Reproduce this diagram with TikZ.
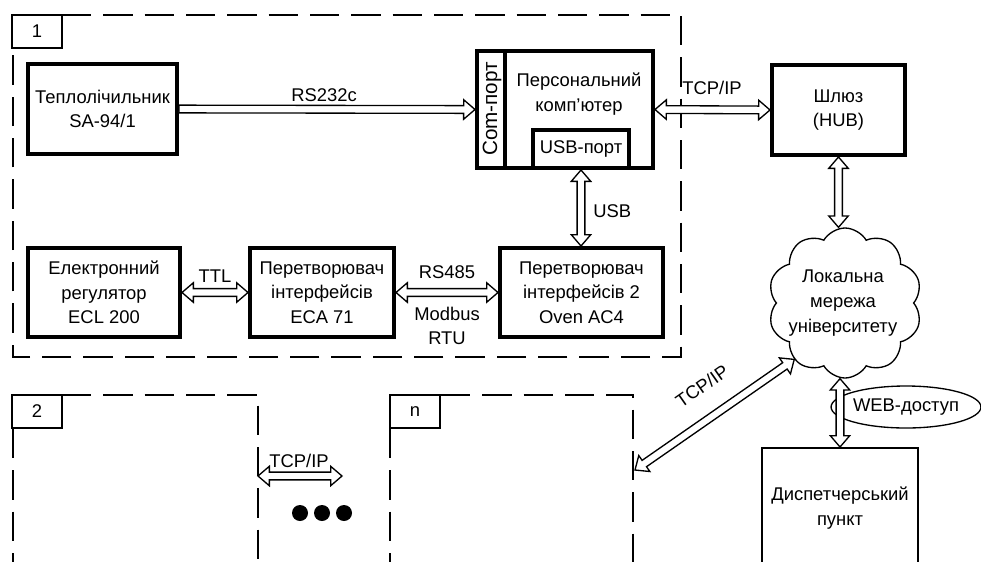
\documentclass[tikz,border=0pt]{standalone}
\usepackage{fontspec}
\setmainfont{Liberation Sans}
\usetikzlibrary{calc,shapes.symbols,shapes.geometric}

\newcommand{\hollowarrow}[3]{%
  \path let \p1=(#2), \p2=(#3), \n1={atan2(\y2-\y1,\x2-\x1)}, \n2={veclen(\x2-\x1,\y2-\y1)} in
    \pgfextra{\xdef\harang{\n1}\xdef\harlen{\n2}};
  \begin{scope}[shift={(#2)}, rotate=\harang]
  \ifnum#1=2
    \path[arrowline] (0pt,0pt) -- (8.5pt,7.3pt) -- (8.5pt,2.9pt) -- ({\harlen-8.5pt},2.9pt) -- ({\harlen-8.5pt},7.3pt)
      -- (\harlen,0pt) -- ({\harlen-8.5pt},-7.3pt) -- ({\harlen-8.5pt},-2.9pt) -- (8.5pt,-2.9pt) -- (8.5pt,-7.3pt) -- cycle;
  \else
    \path[arrowline] (0pt,2.9pt) -- ({\harlen-8.5pt},2.9pt) -- ({\harlen-8.5pt},7.3pt)
      -- (\harlen,0pt) -- ({\harlen-8.5pt},-7.3pt) -- ({\harlen-8.5pt},-2.9pt) -- (0pt,-2.9pt) -- cycle;
  \fi
  \end{scope}}

\begin{document}
\begin{tikzpicture}[x=0.75pt,y=-0.75pt,
  txt/.style={font=\fontsize{13.8}{18.5}\selectfont, align=center, inner sep=0pt},
  thickbox/.style={draw, line width=3pt, txt},
  thinbox/.style={draw, line width=1.2pt, txt},
  frame/.style={line width=2pt, dash pattern=on 22pt off 9pt},
  sz/.style 2 args={minimum width=#1*0.75pt, minimum height=#2*0.75pt},
  arrowline/.style={draw=black, fill=white, line width=1pt, line join=miter},
  dot/.style={circle, fill=black, inner sep=0pt, minimum size=12pt}
]
\useasboundingbox (0,0) rectangle (981,561);
\clip (0,0) rectangle (981,561);

% dashed frames
\draw[frame] (62,15) -- (681,15) -- (681,357) -- (13,357) -- (13,48);
\draw[frame] (62,395) -- (258,395) -- (258,580);
\draw[frame] (13,429) -- (13,580);
\draw[frame] (441,395) -- (633,395) -- (633,580);
\draw[frame] (390,429) -- (390,580);

% frame labels
\node[thinbox, sz={50}{33}] (lab1) at (37,31.5) {1};
\node[thinbox, sz={50}{33}] (lab2) at (37,411.5) {2};
\node[thinbox, sz={50}{33}] (labn) at (415,411.5) {n};

% boxes of frame 1
\node[thickbox, sz={149}{90}] (teplo) at (102.5,109) {Теплолічильник\\SA-94/1};
\node[thickbox, sz={176}{117}] (pc) at (565,109.5) {};
\draw[line width=3pt] ($(pc.north west)+(30,0)$) -- ($(pc.south west)+(30,0)$);
\node[txt, rotate=90, font=\fontsize{15.5}{18}\selectfont] (com) at (492,109) {Com-порт};
\node[txt] (pctext) at (579,94) {Персональний\\комп’ютер};
\node[thickbox, sz={96}{38}] (usb) at (581,149) {USB-порт};

\node[thickbox, sz={152}{89}] (elec) at (104,292.5) {Електронний\\регулятор\\ECL 200};
\node[thickbox, sz={144}{89}] (eca) at (322,292.5) {Перетворювач\\інтерфейсів\\ECA 71};
\node[thickbox, sz={163}{89}] (oven) at (581.5,292.5) {Перетворювач\\інтерфейсів 2\\Oven AC4};

% right side
\node[thickbox, sz={133}{90}] (shluz) at (838.5,110) {Шлюз\\(HUB)};
\node[cloud, draw, line width=1pt, cloud puffs=10, cloud puff arc=120, aspect=1,
      sz={154}{150}, inner sep=0pt] (cloud) at (845,303) {};
\node[txt] (cloudtext) at (843,303) {Локальна\\мережа\\університету};
\node[thinbox, sz={156}{200}, anchor=north] (disp) at (840,447) {};
\node[txt] (disptext) at (840,508) {Диспетчерський\\пункт};
\node[ellipse, draw, line width=1pt, txt, sz={103}{42}] (web) at (906,407) {WEB-доступ};

% connectors
\hollowarrow{1}{teplo.east}{pc.west}
\node[txt] (lrs232) at (324,95) {RS232c};
\hollowarrow{2}{pc.east}{shluz.west}
\node[txt] (ltcp1) at (712,88) {TCP/IP};
\hollowarrow{2}{usb.south}{usb.south |- oven.north}
\node[txt, anchor=west] (lusb) at (593,211) {USB};
\hollowarrow{2}{elec.east}{eca.west}
\node[txt] (lttl) at (215,276) {TTL};
\hollowarrow{2}{eca.east}{oven.west}
\node[txt] (lrs485) at (447,272) {RS485};
\node[txt] (lmodbus) at (447,326) {Modbus\\RTU};
\hollowarrow{2}{shluz.south}{shluz.south |- cloud.north}
\hollowarrow{2}{disp.north |- cloud.south}{disp.north}

\coordinate (nright) at (635,470);
\hollowarrow{2}{nright}{cloud.228}
\node[txt, rotate=35] (ltcpd) at (702,386) {TCP/IP};

\coordinate (tcp2a) at (258,476);
\coordinate (tcp2b) at (342,476);
\hollowarrow{2}{tcp2a}{tcp2b}
\node[txt] (ltcp2) at (299,461) {TCP/IP};

\node[dot] (d1) at (300,513) {};
\node[dot] (d2) at (322,513) {};
\node[dot] (d3) at (344,513) {};
\end{tikzpicture}
\end{document}
